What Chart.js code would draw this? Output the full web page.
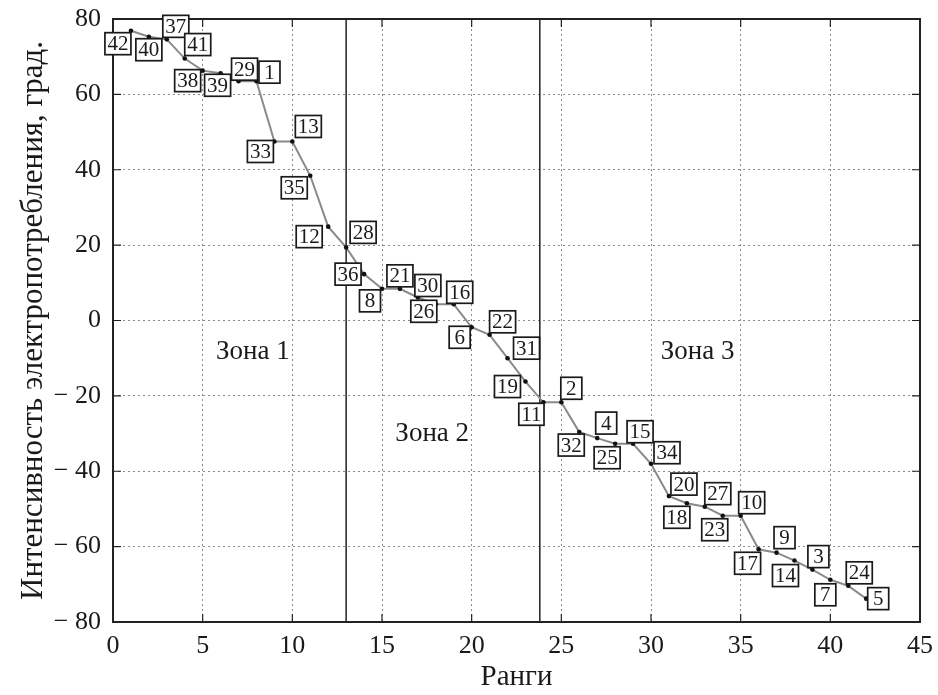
<!DOCTYPE html>
<html lang="ru">
<head>
    <meta charset="UTF-8">
    <title>Ранги</title>
    <script src="https://cdn.jsdelivr.net/npm/chart.js"></script>
    <style>
        html, body { margin: 0; padding: 0; background: #fff; }
        #wrap { width: 938px; height: 695px; }
    </style>
</head>
<body>
<div id="wrap"><canvas id="rankChart" width="938" height="695"></canvas></div>

<script>
// ranks (x) and intensity values (y)
const ranks = [1, 2, 3, 4, 5, 6, 7, 8, 9, 10, 11, 12, 13, 14, 15, 16, 17, 18, 19, 20, 21,
               22, 23, 24, 25, 26, 27, 28, 29, 30, 31, 32, 33, 34, 35, 36, 37, 38, 39, 40, 41, 42];
const intensity = [76.9, 75.3, 74.6, 69.5, 66.3, 65.6, 63.5, 63.5, 47.5, 47.5, 38.4, 24.9, 19.4, 12.3,
                   8.4, 8.4, 6.1, 4.3, 4.3, -1.8, -3.8, -10.0, -16.2, -21.7, -21.7, -29.6, -31.2, -32.7,
                   -32.7, -38.0, -46.6, -48.5, -49.4, -51.8, -51.8, -60.7, -61.6, -63.7, -66.1, -68.8, -70.4, -73.8];
// object number written in each box
const objectIds = [42, 40, 37, 41, 38, 39, 29, 1, 33, 13, 35, 12, 28, 36, 8, 21, 30, 26, 16, 6, 22,
                   31, 19, 11, 2, 32, 4, 25, 15, 34, 20, 18, 27, 23, 10, 17, 9, 14, 3, 7, 24, 5];
// zone borders and names
const zoneBounds = [13, 23.8];
const zoneNames = ["Зона 1", "Зона 2", "Зона 3"];
const xTicks = { min: 0, max: 45, step: 5 };
const yTicks = { min: -80, max: 80, step: 20 };

// placement only: box offsets from the point (px) and zone label anchors (data units)
const boxOffsets = [[-13,13],[0,13],[9,-13],[13,-14],[-15,10],[-3,12],[6,-12],[13,-9],[-14,10],[16,-15],
                    [-16,12],[-19,10],[17,-15],[-16,0],[-12,12],[0,-13],[10,-12],[-12,7],[6,-12],[-12,10],
                    [13,-13],[19,-10],[-18,5],[-12,12],[10,-14],[-8,13],[9,-15],[-8,14],[7,-12],[16,-11],
                    [15,-12],[-10,14],[13,-13],[-8,14],[11,-13],[-11,14],[8,-15],[-9,15],[6,-13],[-5,15],
                    [11,-13],[12,0]];
const zoneAnchors = [[7.8, -8.4], [17.8, -30.2], [32.6, -8.4]];

const SERIF = "'Liberation Serif', 'DejaVu Serif', serif";

const framePlugin = {
    id: "frame",
    beforeDatasetsDraw(chart) {
        const { ctx, chartArea: a, scales: { x, y } } = chart;
        ctx.save();
        // zone borders
        ctx.strokeStyle = "#222";
        ctx.lineWidth = 1.5;
        zoneBounds.forEach(b => {
            const px = x.getPixelForValue(b);
            ctx.beginPath();
            ctx.moveTo(px, a.top);
            ctx.lineTo(px, a.bottom);
            ctx.stroke();
        });
        // small inward ticks
        ctx.lineWidth = 1.2;
        for (let v = xTicks.min; v <= xTicks.max; v += xTicks.step) {
            const px = x.getPixelForValue(v);
            ctx.beginPath();
            ctx.moveTo(px, a.bottom); ctx.lineTo(px, a.bottom - 8);
            ctx.moveTo(px, a.top); ctx.lineTo(px, a.top + 8);
            ctx.stroke();
        }
        for (let v = yTicks.min; v <= yTicks.max; v += yTicks.step) {
            const py = y.getPixelForValue(v);
            ctx.beginPath();
            ctx.moveTo(a.left, py); ctx.lineTo(a.left + 8, py);
            ctx.moveTo(a.right, py); ctx.lineTo(a.right - 8, py);
            ctx.stroke();
        }
        // zone names
        ctx.fillStyle = "#1a1a1a";
        ctx.font = "27px " + SERIF;
        ctx.textAlign = "center";
        ctx.textBaseline = "middle";
        zoneNames.forEach((n, i) => {
            ctx.fillText(n, x.getPixelForValue(zoneAnchors[i][0]), y.getPixelForValue(zoneAnchors[i][1]));
        });
        ctx.restore();
    },
    afterDatasetsDraw(chart) {
        const { ctx, chartArea: a } = chart;
        const meta = chart.getDatasetMeta(0);
        ctx.save();
        // frame
        ctx.strokeStyle = "#222";
        ctx.lineWidth = 2;
        ctx.strokeRect(a.left, a.top, a.right - a.left, a.bottom - a.top);
        // numbered boxes
        ctx.font = "21px " + SERIF;
        ctx.textAlign = "center";
        ctx.textBaseline = "middle";
        ctx.lineWidth = 1.7;
        meta.data.forEach((pt, i) => {
            const txt = String(objectIds[i]);
            const cx = pt.x + boxOffsets[i][0];
            const cy = pt.y + boxOffsets[i][1];
            const w = Math.max(ctx.measureText(txt).width + 5, 21);
            const h = 22;
            ctx.fillStyle = "#fff";
            ctx.fillRect(cx - w / 2, cy - h / 2, w, h);
            ctx.strokeStyle = "#1a1a1a";
            ctx.strokeRect(cx - w / 2, cy - h / 2, w, h);
            ctx.fillStyle = "#1a1a1a";
            ctx.fillText(txt, cx, cy + 1);
        });
        ctx.restore();
    }
};

new Chart(document.getElementById("rankChart"), {
    type: "scatter",
    data: {
        datasets: [{
            data: ranks.map((r, i) => ({ x: r, y: intensity[i] })),
            showLine: true,
            borderColor: "#8a8a8a",
            borderWidth: 2,
            pointRadius: 2.3,
            pointBackgroundColor: "#111",
            pointBorderWidth: 0
        }]
    },
    options: {
        responsive: false,
        animation: false,
        layout: { padding: { top: 19, right: 18, left: 0, bottom: 0 } },
        plugins: { legend: { display: false }, tooltip: { enabled: false } },
        scales: {
            x: {
                type: "linear",
                min: xTicks.min, max: xTicks.max,
                afterFit: s => { s.height = 73; s.paddingLeft = 0; s.paddingRight = 0; },
                ticks: { stepSize: xTicks.step, color: "#1a1a1a", padding: 9, font: { family: SERIF, size: 26 } },
                grid: { color: "#8c8c8c", drawTicks: false },
                border: { display: false, dash: [2, 3] },
                title: { display: true, text: "Ранги", color: "#1a1a1a", padding: { top: 0, bottom: 0 },
                         font: { family: SERIF, size: 29 } }
            },
            y: {
                min: yTicks.min, max: yTicks.max,
                afterFit: s => { s.width = 113; s.paddingTop = 0; s.paddingBottom = 0; },
                ticks: {
                    stepSize: yTicks.step, color: "#1a1a1a", padding: 12,
                    font: { family: SERIF, size: 26 },
                    callback: v => v < 0 ? "\u2212 " + Math.abs(v) : String(v)
                },
                grid: { color: "#8c8c8c", drawTicks: false },
                border: { display: false, dash: [2, 3] },
                title: { display: true, text: "Интенсивность электропотребления, град.", color: "#1a1a1a",
                         padding: { top: 15, bottom: 0 }, font: { family: SERIF, size: 31 } }
            }
        }
    },
    plugins: [framePlugin]
});
</script>
</body>
</html>
